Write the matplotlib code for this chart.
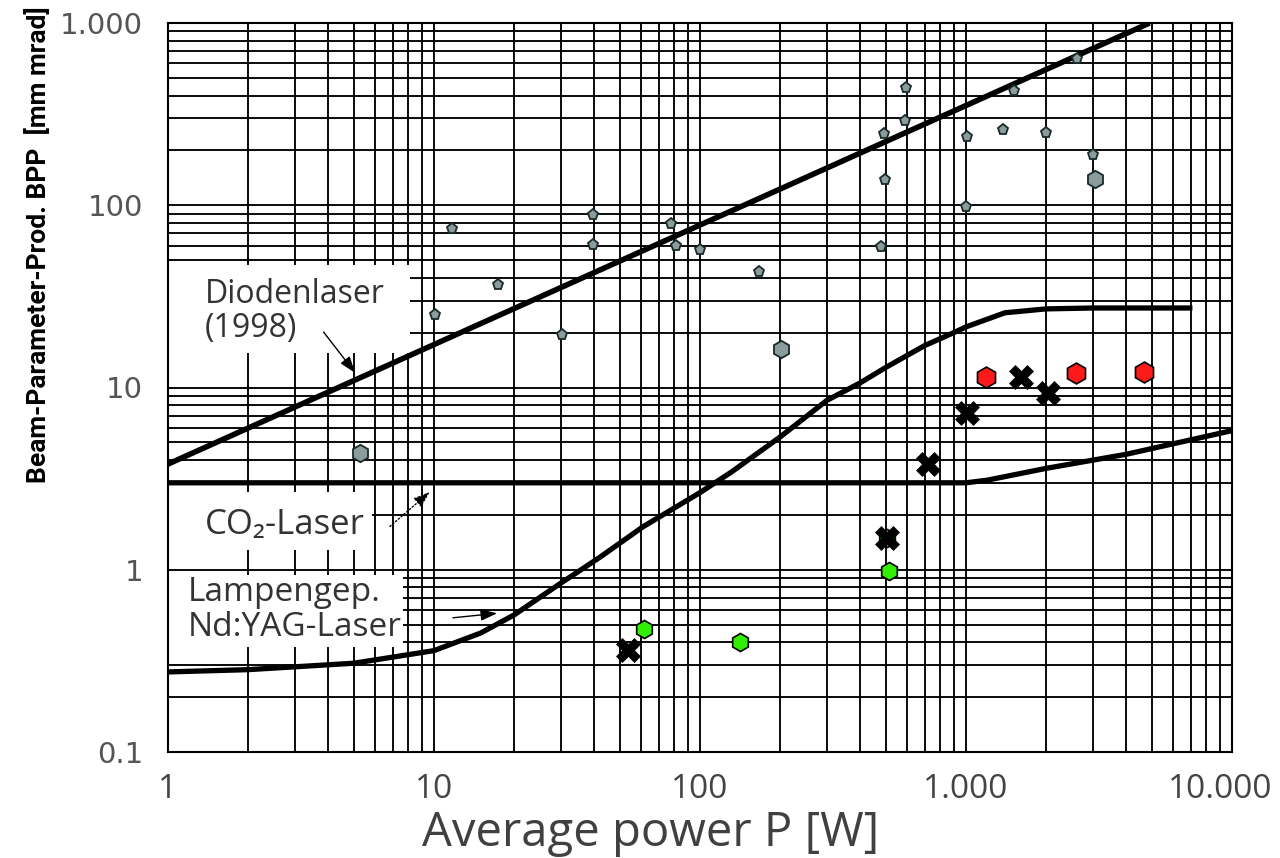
import matplotlib
matplotlib.use("Agg")
import matplotlib.pyplot as plt
from matplotlib.patches import Rectangle
from matplotlib.ticker import FixedLocator, FixedFormatter, NullFormatter, LogLocator
from matplotlib.transforms import ScaledTranslation

# ---------------- data ----------------
# Diode laser (1998) trend line
diode_P = [1, 4900]
diode_BPP = [3.8, 1000]

# CO2 laser curve
co2_P = [1, 1000, 1200, 2000, 4000, 10000]
co2_BPP = [3.0, 3.0, 3.1, 3.6, 4.3, 5.8]

# Lamp-pumped Nd:YAG curve
yag_P = [1, 2, 5, 10, 15, 20, 30, 42, 61, 100, 131, 200, 300, 400, 500, 700, 900, 1000,
         1400, 2000, 3000, 7100]
yag_BPP = [0.275, 0.283, 0.307, 0.36, 0.45, 0.565, 0.845, 1.17, 1.72, 2.65, 3.43, 5.35,
           8.5, 10.6, 12.9, 17.0, 20.0, 21.5, 25.7, 27.0, 27.3, 27.3]

# grey diode laser points (small / large)
grey_small_P = [11.7, 17.4, 39.6, 39.6, 10.1, 30.3, 78, 81, 100, 166, 478, 497, 492,
                596, 589, 1009, 1000, 1377, 1514, 1997, 2614, 3000]
grey_small_BPP = [74, 36.5, 88.5, 60.5, 25, 19.4, 79, 60, 57, 43, 59, 138, 246,
                  440, 289, 237, 98, 259, 424, 249, 635, 189]
grey_large_P = [5.27, 202, 3050]
grey_large_BPP = [4.38, 16.3, 139]

# red points
red_P = [1189, 2594, 4670]
red_BPP = [11.4, 12.0, 12.2]

# green points
green_P = [61.6, 141, 514, 505]
green_BPP = [0.473, 0.402, 0.98, 1.49]

# black crosses
cross_P = [1610, 2034, 1009, 719, 505, 53.6]
cross_BPP = [11.4, 9.3, 7.25, 3.8, 1.49, 0.363]

x_ticks = [1, 10, 100, 1000, 10000]
x_ticklabels = ["1", "10", "100", "1.000", "10.000"]
y_ticks = [0.1, 1, 10, 100, 1000]
y_ticklabels = ["0.1", "1", "10", "100", "1.000"]

# ---------------- figure ----------------
fig = plt.figure(figsize=(12.8, 8.58), dpi=100)
ax = fig.add_axes([168/1280, 1 - 752/858, (1232-168)/1280, (752-23)/858])
ax.set_xscale("log")
ax.set_yscale("log")
ax.set_xlim(1, 10000)
ax.set_ylim(0.1, 1000)

grid_kw = dict(color="black", lw=1.35)
ax.xaxis.set_major_locator(FixedLocator(x_ticks))
ax.xaxis.set_major_formatter(FixedFormatter(x_ticklabels))
ax.yaxis.set_major_locator(FixedLocator(y_ticks))
ax.yaxis.set_major_formatter(FixedFormatter(y_ticklabels))
ax.xaxis.set_minor_locator(LogLocator(base=10, subs=range(2, 10), numticks=20))
ax.yaxis.set_minor_locator(LogLocator(base=10, subs=range(2, 10), numticks=20))
ax.xaxis.set_minor_formatter(NullFormatter())
ax.yaxis.set_minor_formatter(NullFormatter())
ax.grid(True, which="both", **grid_kw)
ax.set_axisbelow(True)
ax.tick_params(which="both", length=0)
ax.tick_params(axis="x", pad=15, labelsize=24, labelcolor="#444444")
ax.tick_params(axis="y", pad=18, labelsize=21, labelcolor="#555555")
for lab in ax.get_xticklabels():
    lab.set_fontfamily("Open Sans")
for lab in ax.get_yticklabels():
    lab.set_fontfamily("DejaVu Sans")
xl = ax.get_xticklabels()
xl[-1].set_transform(xl[-1].get_transform() + ScaledTranslation(-0.12, 0, fig.dpi_scale_trans))
for sp in ax.spines.values():
    sp.set_linewidth(1.5)
    sp.set_color("black")

# white label boxes (axes fraction)
for (x0, y0, w, h) in [(0.0, 0.547, 0.227, 0.121), (0.0, 0.277, 0.192, 0.08), (0.0, 0.144, 0.221, 0.099)]:
    ax.add_patch(Rectangle((x0, y0), w, h, transform=ax.transAxes, facecolor="white",
                           edgecolor="none", zorder=1.5))

# curves
ax.plot(diode_P, diode_BPP, color="black", lw=4.0, zorder=3, solid_capstyle="butt")
ax.plot(co2_P, co2_BPP, color="black", lw=3.8, zorder=3, solid_capstyle="butt")
ax.plot(yag_P, yag_BPP, color="black", lw=3.8, zorder=3, solid_capstyle="butt")

# points
ax.plot(grey_small_P, grey_small_BPP, ls="none", marker="p", ms=8, mfc="#8a9c9c",
        mec="#1a2a2a", mew=1.3, zorder=4)
ax.plot(grey_large_P, grey_large_BPP, ls="none", marker="h", ms=12.5, mfc="#8a9c9c",
        mec="#1a2a2a", mew=1.3, zorder=4)
ax.plot(red_P, red_BPP, ls="none", marker="h", ms=15, mfc="#ff1a1a", mec="black",
        mew=1.2, zorder=4)
ax.plot(green_P, green_BPP, ls="none", marker="h", ms=13, mfc="#33ee00", mec="black",
        mew=1.2, zorder=4)
ax.plot(cross_P, cross_BPP, ls="none", marker="X", ms=17, mfc="black", mec="black",
        mew=0.5, zorder=5)

# labels
txt_font = ["Open Sans", "Noto Sans", "DejaVu Sans"]
ax.text(0.035, 0.604, "Diodenlaser\n(1998)", transform=ax.transAxes, ha="left", va="center",
        fontsize=23, color="#333333", family=txt_font, linespacing=1.05, zorder=6)
ax.text(0.035, 0.311, "CO\u2082-Laser", transform=ax.transAxes, ha="left", va="center",
        fontsize=25, color="#333333", family=txt_font, zorder=6)
ax.text(0.019, 0.195, "Lampengep.\nNd:YAG-Laser", transform=ax.transAxes, ha="left", va="center",
        fontsize=24, color="#333333", family=txt_font, linespacing=1.1, zorder=6)

arrow_kw = dict(arrowstyle="-|>,head_length=1.0,head_width=0.35", color="black", lw=1.0)
ax.annotate("", xy=(5.13, 11.7), xytext=(3.79, 20.7), arrowprops=dict(**arrow_kw), zorder=6)
ax.annotate("", xy=(9.83, 2.74), xytext=(6.71, 1.69), arrowprops=dict(**arrow_kw, ls=":"), zorder=6)
ax.annotate("", xy=(17.7, 0.579), xytext=(11.5, 0.543), arrowprops=dict(**arrow_kw), zorder=6)

fig.text(651/1280, 1 - 833/858, "Average power P [W]", fontsize=34, color="#404040",
         family="Open Sans", ha="center", va="center")
fig.text(38/1280, 1 - 245/858, "Beam-Parameter-Prod. BPP  [mm mrad]", rotation=90,
         ha="center", va="center", fontsize=19, fontweight="bold",
         family=["Roboto", "DejaVu Sans"], color="black")

fig.savefig("out.png", dpi=100, facecolor="white")
